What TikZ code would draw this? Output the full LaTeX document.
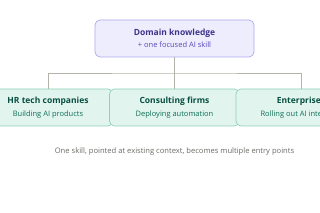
\documentclass[tikz,border=0pt]{standalone}
\usepackage{fontspec}
\setmainfont{Open Sans}
\usepackage{tikz}
\usetikzlibrary{positioning,calc}
\definecolor{topfill}{HTML}{EEEDFE}
\definecolor{topline}{HTML}{AFA9EC}
\definecolor{toptext}{HTML}{3C3489}
\definecolor{topsub}{HTML}{534AB7}
\definecolor{leaffill}{HTML}{E1F5EE}
\definecolor{leafline}{HTML}{8ED1B6}
\definecolor{leaftext}{HTML}{085041}
\definecolor{leafsub}{HTML}{0F6E56}
\definecolor{linkgray}{HTML}{B4B2A9}
\definecolor{notegray}{HTML}{6B6A66}

\begin{document}
\begin{tikzpicture}[x=1pt,y=-1pt,
  hub/.style={draw=topline,fill=topfill,rounded corners=5pt,line width=0.7pt,
              minimum width=159pt,minimum height=37pt,align=center},
  branch/.style={draw=leafline,fill=leaffill,rounded corners=5pt,line width=0.7pt,
              minimum width=130pt,minimum height=37pt,align=center},
  link/.style={draw=linkgray,line width=0.7pt},
  note/.style={font=\fontsize{7.6}{9}\selectfont,text=notegray}]
\useasboundingbox (0,0) rectangle (320,213);
\clip (0,0) rectangle (320,213);
\node[hub] (domain) at (174.5,38.5)
  {{\fontsize{8.5}{11}\selectfont\bfseries\color{toptext}Domain knowledge}\\[0.5pt]
   {\fontsize{7.5}{9}\selectfont\color{topsub}+ one focused AI skill}};
\node[branch] (hr) at (48,107.5)
  {{\fontsize{8.5}{11}\selectfont\bfseries\color{leaftext}HR tech companies}\\[0.5pt]
   {\fontsize{7.5}{9}\selectfont\color{leafsub}Building AI products}};
\node[branch] (consult) at (174.5,107.5)
  {{\fontsize{8.5}{11}\selectfont\bfseries\color{leaftext}Consulting firms}\\[0.5pt]
   {\fontsize{7.5}{9}\selectfont\color{leafsub}Deploying automation}};
\node[branch] (enterprise) at (301,107.5)
  {{\fontsize{8.5}{11}\selectfont\bfseries\color{leaftext}Enterprises}\\[0.5pt]
   {\fontsize{7.5}{9}\selectfont\color{leafsub}Rolling out AI internally}};
\coordinate (split) at (174.5,73);
\draw[link] (domain.south) -- (consult.north);
\draw[link] (hr.north) |- (split) -| (enterprise.north);
\node[note] (caption) at (174.5,151.5) {One skill, pointed at existing context, becomes multiple entry points};
\end{tikzpicture}
\end{document}
